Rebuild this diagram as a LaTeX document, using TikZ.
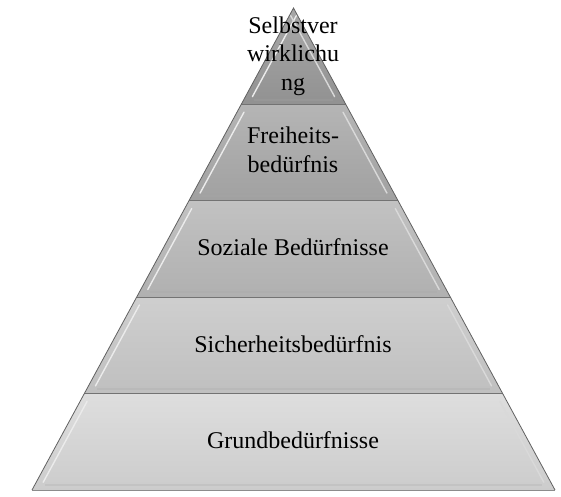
\documentclass[tikz,border=0pt]{standalone}
\usepackage{fontspec}
\setmainfont{Liberation Serif}
\usetikzlibrary{calc}

\tikzset{
	level/.style={font=\fontsize{24}{28.5}\selectfont, align=center, text=black, inner sep=0pt},
	edgeline/.style={black!62, line width=0.8pt},
	sepline/.style={black!55, line width=1.3pt},
	glint/.style={white!92!black, line width=1.4pt, line cap=round},
}

\begin{document}
\begin{tikzpicture}[x=1pt,y=-1pt]
	\useasboundingbox (0,0) rectangle (561,496);
	\coordinate (apex) at (293.5,8);
	\coordinate (bl) at (32,490);
	\coordinate (br) at (555,490);
	% bands, top to bottom
	\foreach \k/\ct/\cb in {0/66/57,1/71/63,2/76/69,3/81/75,4/87/80}{
		\pgfmathsetmacro\ta{\k/5}
		\pgfmathsetmacro\tb{(\k+1)/5}
		\pgfmathsetmacro\ha{\k/5+0.016}
		\pgfmathsetmacro\hb{(\k+1)/5-0.016}
		\shade[top color=white!\ct!black, bottom color=white!\cb!black]
			($(apex)!\ta!(bl)$) -- ($(apex)!\ta!(br)$) -- ($(apex)!\tb!(br)$) -- ($(apex)!\tb!(bl)$) -- cycle;
		\draw[glint] ($(apex)!\ha!(bl) + (7,0)$) -- ($(apex)!\hb!(bl) + (7,0)$);
		\draw[glint, white!85!black] ($(apex)!\ha!(br) + (-7,0)$) -- ($(apex)!\hb!(br) + (-7,0)$);
		\draw[black!35, line width=2pt, opacity=0.25]
			($(apex)!\hb!(bl) + (9,3)$) -- ($(apex)!\hb!(br) + (-9,3)$);
	}
	\foreach \k in {1,2,3,4}{
		\draw[sepline] ($(apex)!{\k/5}!(bl)$) -- ($(apex)!{\k/5}!(br)$);
	}
	\draw[edgeline] (bl) -- (apex) -- (br);
	\draw[black!45, line width=0.8pt] (bl) -- (br);

	\node[level] (selbst) at (293,56) {Selbstver\\wirklichu\\ng};
	\node[level] (freiheit) at (293,150) {Freiheits-\\bedürfnis};
	\node[level] (sozial) at (293,247) {Soziale Bedürfnisse};
	\node[level] (sicher) at (293,344) {Sicherheitsbedürfnis};
	\node[level] (grund) at (293,440) {Grundbedürfnisse};
\end{tikzpicture}
\end{document}
